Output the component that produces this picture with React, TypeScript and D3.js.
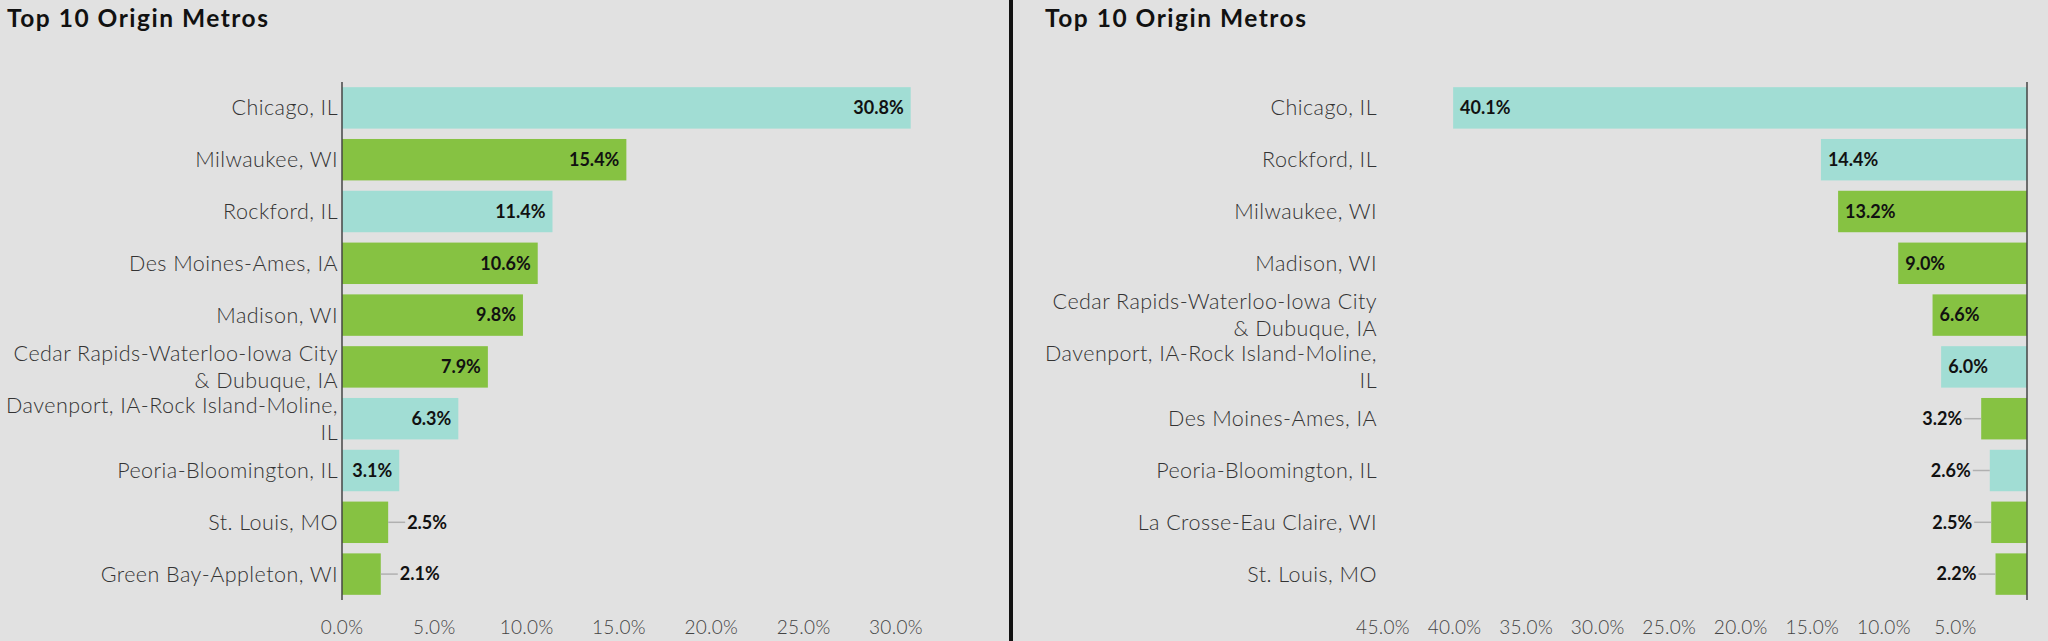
import React from "react";
import * as d3 from "d3";

const W = 2048;
const H = 641;

const leftCategories = [
  "Chicago, IL",
  "Milwaukee, WI",
  "Rockford, IL",
  "Des Moines-Ames, IA",
  "Madison, WI",
  "Cedar Rapids-Waterloo-Iowa City\n& Dubuque, IA",
  "Davenport, IA-Rock Island-Moline,\nIL",
  "Peoria-Bloomington, IL",
  "St. Louis, MO",
  "Green Bay-Appleton, WI",
];
const leftValues = [30.8, 15.4, 11.4, 10.6, 9.8, 7.9, 6.3, 3.1, 2.5, 2.1];
const leftGroups = ["IL", "Other", "IL", "Other", "Other", "Other", "IL", "IL", "Other", "Other"];
const leftTicks = [0, 5, 10, 15, 20, 25, 30];

const rightCategories = [
  "Chicago, IL",
  "Rockford, IL",
  "Milwaukee, WI",
  "Madison, WI",
  "Cedar Rapids-Waterloo-Iowa City\n& Dubuque, IA",
  "Davenport, IA-Rock Island-Moline,\nIL",
  "Des Moines-Ames, IA",
  "Peoria-Bloomington, IL",
  "La Crosse-Eau Claire, WI",
  "St. Louis, MO",
];
const rightValues = [40.1, 14.4, 13.2, 9.0, 6.6, 6.0, 3.2, 2.6, 2.5, 2.2];
const rightGroups = ["IL", "IL", "Other", "Other", "Other", "IL", "Other", "IL", "Other", "Other"];
const rightTicks = [45, 40, 35, 30, 25, 20, 15, 10, 5];

const titleText = "Top 10 Origin Metros";

const color = d3.scaleOrdinal<string, string>().domain(["IL", "Other"]).range(["#a1ddd4", "#86c242"]);
const fmt = d3.format(".1f");

const labelFont = "Lato, 'Open Sans', sans-serif";

type PanelProps = {
  categories: string[];
  values: number[];
  groups: string[];
  ticks: number[];
  domainMax: number;
  x0: number;
  x1: number;
  labelRight: number;
  titleX: number;
  reversed: boolean;
};

function Panel(p: PanelProps) {
  const idx = p.categories.map((_, i) => String(i));
  const y = d3.scaleBand().domain(idx).range([82, 600]).paddingInner(0.2).paddingOuter(0.1);
  const x = d3.scaleLinear().domain([0, p.domainMax]).range([p.x0, p.x1]);
  const bw = y.bandwidth();
  const zero = x(0);
  return (
    <g>
      <text x={p.titleX} y={27} fontFamily={labelFont} fontWeight={700} fontSize={24.5} letterSpacing={1.5} fill="#111">
        {titleText}
      </text>
      {p.values.map((v, i) => {
        const yy = y(String(i))!;
        const xv = x(v);
        const left = Math.min(zero, xv);
        const width = Math.abs(xv - zero);
        const cy = yy + bw / 2;
        const inside = width >= 54;
        const label = fmt(v) + "%";
        let valueEl;
        if (inside) {
          valueEl = p.reversed ? (
            <text x={xv + 7} y={cy} dy="0.35em" textAnchor="start" fontFamily={labelFont} fontWeight={700} fontSize={18} fill="#111">{label}</text>
          ) : (
            <text x={xv - 7} y={cy} dy="0.35em" textAnchor="end" fontFamily={labelFont} fontWeight={700} fontSize={18} fill="#111">{label}</text>
          );
        } else {
          const dir = p.reversed ? -1 : 1;
          valueEl = (
            <g>
              <line x1={xv} x2={xv + dir * 17} y1={cy} y2={cy} stroke="#b0b0b0" strokeWidth={1.5} />
              <text x={xv + dir * 19} y={cy} dy="0.35em" textAnchor={p.reversed ? "end" : "start"} fontFamily={labelFont} fontWeight={700} fontSize={18} fill="#111">{label}</text>
            </g>
          );
        }
        const lines = p.categories[i].split("\n");
        const lh = 27;
        return (
          <g key={i}>
            <rect x={left} y={yy} width={width} height={bw} fill={color(p.groups[i])} />
            {valueEl}
            <text x={p.labelRight} y={cy} textAnchor="end" fontFamily={labelFont} fontWeight={300} fontSize={21.5} letterSpacing={0.45} fill="#333">
              {lines.map((l, j) => (
                <tspan key={j} x={p.labelRight} y={cy + (j - (lines.length - 1) / 2) * lh} dy="0.35em">{l}</tspan>
              ))}
            </text>
          </g>
        );
      })}
      <line x1={zero} x2={zero} y1={82} y2={600} stroke="#444" strokeWidth={1.5} />
      {p.ticks.map((t) => (
        <text key={t} x={x(t)} y={627} dy="0.35em" textAnchor="middle" fontFamily={labelFont} fontWeight={300} fontSize={19} letterSpacing={0.3} fill="#444">
          {fmt(t) + "%"}
        </text>
      ))}
    </g>
  );
}

export default function App() {
  return (
    <div>
      <style>{`body{margin:0;background:#e1e1e1;}`}</style>
      <svg width={W} height={H} style={{ display: "block", background: "#e1e1e1" }}>
        <Panel
          categories={leftCategories}
          values={leftValues}
          groups={leftGroups}
          ticks={leftTicks}
          domainMax={30.8}
          x0={342}
          x1={910.7}
          labelRight={338}
          titleX={7}
          reversed={false}
        />
        <rect x={1009} y={0} width={4} height={H} fill="#111" />
        <Panel
          categories={rightCategories}
          values={rightValues}
          groups={rightGroups}
          ticks={rightTicks}
          domainMax={45}
          x0={2027}
          x1={1383}
          labelRight={1377}
          titleX={1045}
          reversed={true}
        />
      </svg>
    </div>
  );
}
